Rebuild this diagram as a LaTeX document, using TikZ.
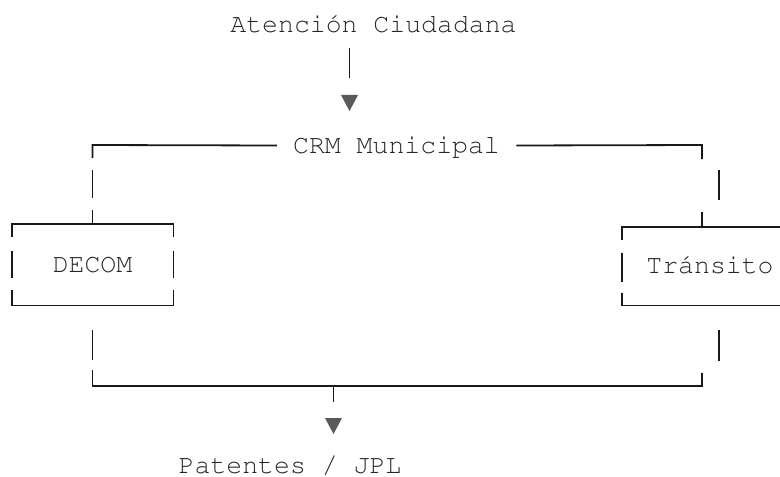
\documentclass[tikz,border=0pt]{standalone}
\usepackage[T1]{fontenc}
\usepackage{tikz}
\usetikzlibrary{positioning, calc}
\tikzstyle{txt} = [font=\fontencoding{T1}\fontfamily{pcr}\fontsize{13.25}{16}\selectfont, text=black!85, inner sep=0pt, text height=7.6pt, text depth=0pt]
\tikzstyle{wire} = [line width=0.9pt, draw=black!90]
\tikzstyle{tip} = [fill=black!65]
\newcommand{\downtip}[1]{\fill[tip] ($(#1)+(-8.5,0)$) -- ++(17,0) -- ($(#1)+(0,16)$) -- cycle;}

\begin{document}
\begin{tikzpicture}[x=0.5pt, y=-0.5pt]
    \clip (0,0) rectangle (780,476);
    \fill[white] (0,0) rectangle (780,476);

    % Text nodes
    \node[txt] (atencion) at (373.5,24.5) {Atenci\'on Ciudadana};
    \node[txt, inner xsep=8pt] (crm) at (396.5,145.5) {CRM Municipal};
    \node[txt, minimum width=80.5pt, minimum height=40.5pt] (decom) at (92.5,264.5) {DECOM};
    \node[txt, minimum width=88pt, minimum height=39pt] (transito) at (710,266) {Tr\'ansito};
    \node[txt] (patentes) at (290,465.5) {Patentes / JPL};

    % Junctions
    \coordinate (tl) at (92.5,145);
    \coordinate (tr) at (702,145);
    \coordinate (br) at (702,386);
    \coordinate (bm) at (333.5,386);
    \coordinate (tip1) at (349.5,95);
    \coordinate (tip2) at (333.5,418);

    % Atencion -> CRM
    \draw[wire] (atencion.south -| tip1) ++(0,16) -- ++(0,30);
    \downtip{tip1}

    % CRM -> DECOM
    \draw[wire] (crm.west) -- (tl) -- ++(0,13);
    \draw[wire] ($(tl)+(0,25)$) -- ++(0,28);
    \draw[wire] ($(tl)+(0,65)$) -- (tl |- decom.north);

    % CRM -> Transito
    \draw[wire] (crm.east) -- (tr) -- ++(0,14);
    \draw[wire] ($(tr)+(17,25)$) -- ++(0,30);
    \draw[wire] ($(tr)+(0,67)$) -- (tr |- transito.north);

    % DECOM box
    \draw[wire] ($(decom.north west)+(0,13)$) |- (decom.north east) -- ++(0,13);
    \draw[wire] ($(decom.north west)+(0,27)$) -- ++(0,27);
    \draw[wire] ($(decom.north east)+(0,27)$) -- ++(0,27);
    \draw[wire] ($(decom.south west)+(0,-15)$) |- (decom.south east) -- ++(0,-15);

    % Transito box
    \draw[wire] ($(transito.north west)+(0,13)$) |- (transito.north east);
    \draw[wire] ($(transito.north west)+(0,26)$) -- ++(0,29);
    \draw[wire] ($(transito.south west)+(0,-12)$) |- (transito.south east);

    % DECOM / Transito -> Patentes
    \draw[wire] ($(decom.south)+(0,25)$) -- ++(0,30);
    \draw[wire] ($(decom.south)+(0,65)$) |- (br) -- ++(0,-13);
    \draw[wire] ($(transito.south)+(9,25)$) -- ++(0,31);
    \draw[wire] (bm) -- ++(0,16);
    \downtip{tip2}

\end{tikzpicture}
\end{document}
